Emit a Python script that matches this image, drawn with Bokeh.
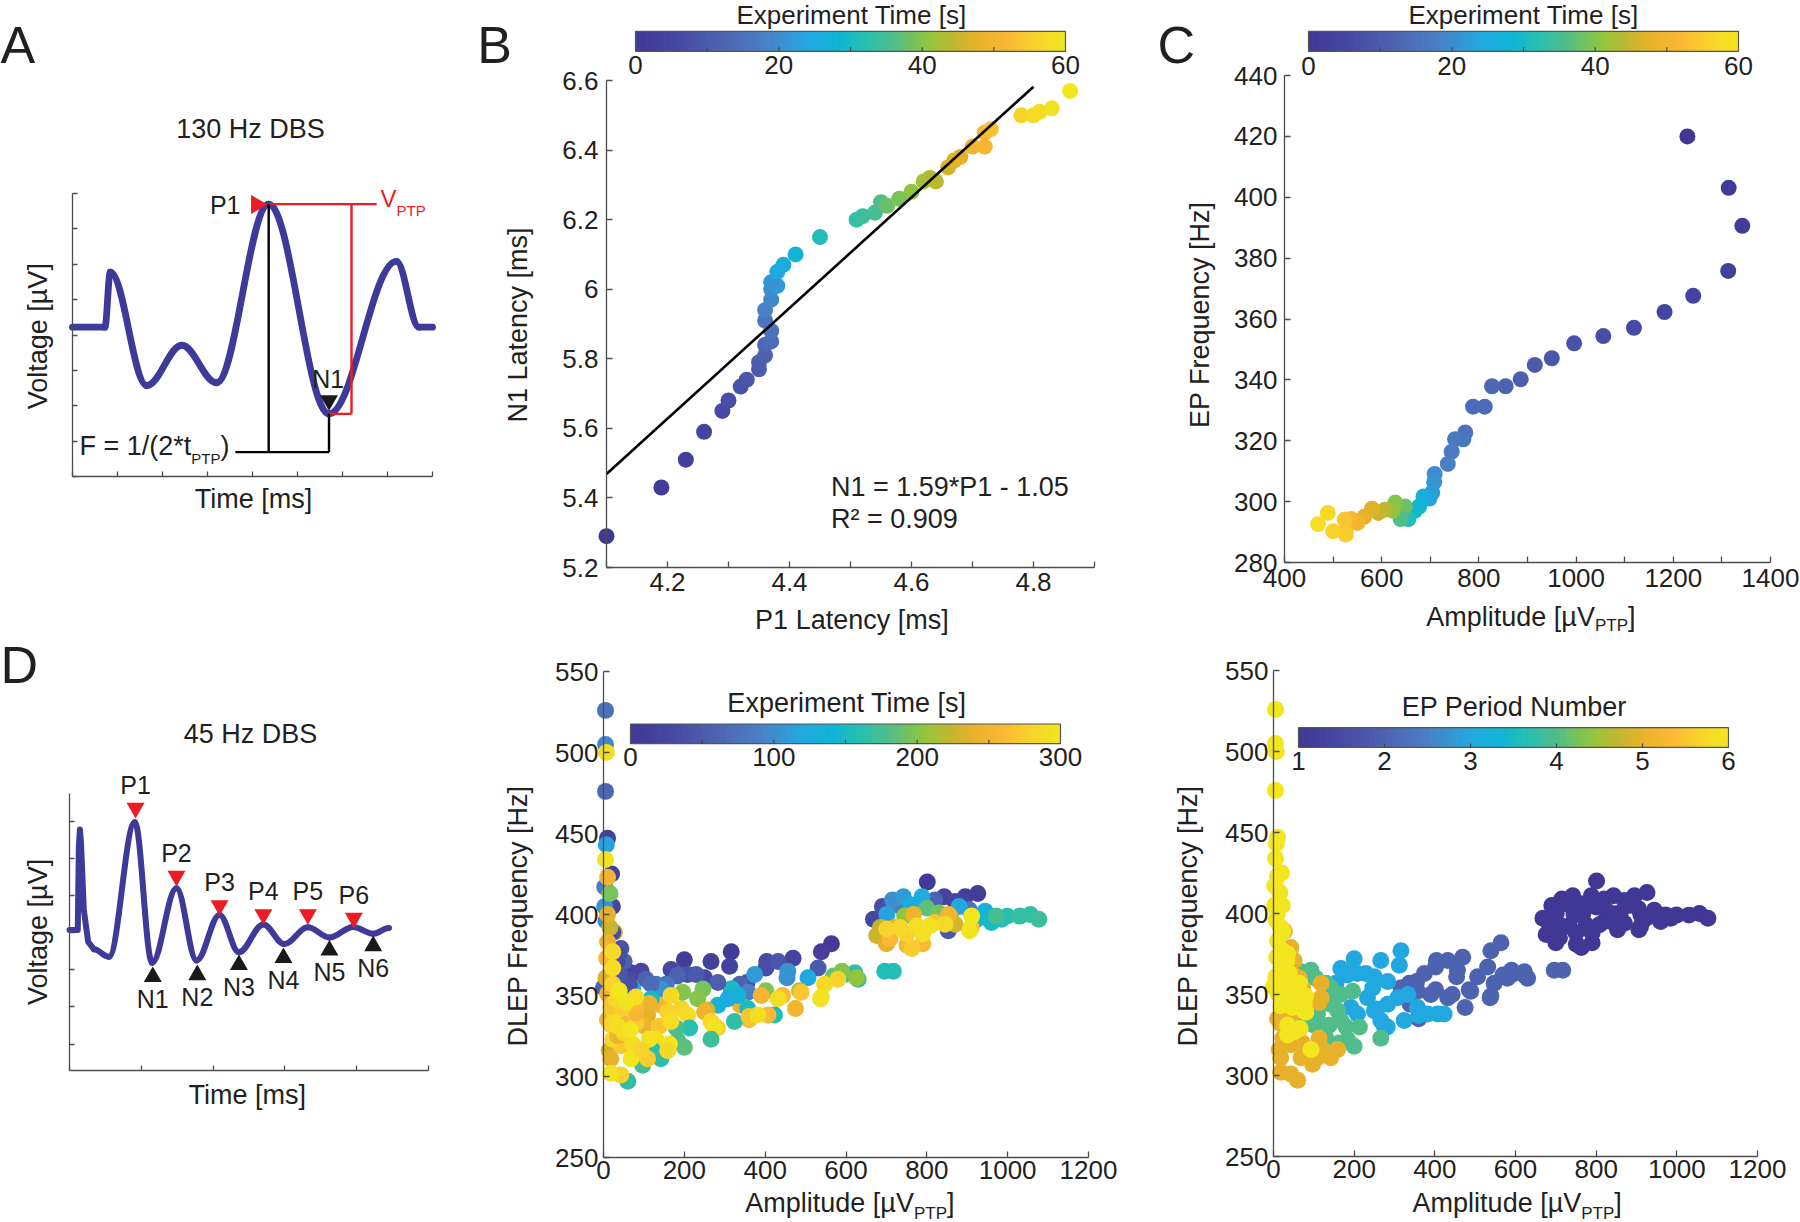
import numpy as np
from bokeh.plotting import figure
from bokeh.models import Range1d, FixedTicker, LinearColorMapper, ColumnDataSource, Label
from bokeh.layouts import row, column
from bokeh.embed import file_html
from bokeh.resources import INLINE

FONT = "Liberation Sans"
INK = "#231f20"
AXIS_GRAY = "#4d4d4d"
WAVE_BLUE = "#3e3a99"
RED = "#ec1c24"
BASE_SHIFT = 0.37  # em: Bokeh places the label anchor ~0.37em above the glyph baseline
ROW_SPLIT = 636

# ---------------- colormap (parula-like) ----------------
CMAP_POS = [0.0, 0.1, 0.2, 0.3, 0.4, 0.47, 0.53, 0.6, 0.68, 0.75, 0.8, 0.87, 0.93, 1.0]
CMAP_HEX = ["#403894", "#4749a4", "#4e63b0", "#4a80c6", "#22a8e0", "#10b4d6", "#24bfb2",
            "#50bd8a", "#8ec63f", "#c8b52e", "#e7b22a", "#fbb834", "#f8d22c", "#f2e61e"]

# ---------------- panel A: 130 Hz schematic ----------------
A_X_TICKS = [0, 1, 2, 3, 4, 5, 6, 7, 8]
A_Y_TICKS = [0, 1, 2, 3, 4, 5, 6, 7, 8]
A_KNOT_X = [0.0, 0.72, 0.84, 1.65, 2.43, 3.20, 4.36, 5.70, 7.20, 7.70, 8.0]
A_KNOT_Y = [4.22, 4.22, 5.78, 2.57, 3.71, 2.65, 7.70, 1.77, 6.08, 4.22, 4.22]
A_P1_INDEX, A_N1_INDEX = 6, 7
A_VPTP_BRACKET_X = 6.20
A_VPTP_END_X = 6.76
A_F_LINE_Y = 0.69
A_F_LINE_X0 = 3.62
A_P1_MARK = (4.09, 7.69)
A_N1_MARK = (5.70, 2.15)

# ---------------- panel B ----------------
B_P1 = [4.10, 4.19, 4.23, 4.26, 4.29, 4.30, 4.32, 4.33, 4.35, 4.35, 4.36, 4.36, 4.37, 4.37, 4.36,
        4.36, 4.37, 4.37, 4.38, 4.37, 4.38, 4.39, 4.41, 4.45, 4.51, 4.52, 4.54, 4.55, 4.56, 4.58,
        4.60, 4.62, 4.63, 4.64, 4.66, 4.67, 4.68, 4.70, 4.72, 4.72, 4.73, 4.78, 4.80, 4.81, 4.83, 4.86]
B_N1 = [5.29, 5.43, 5.51, 5.59, 5.65, 5.68, 5.72, 5.74, 5.77, 5.79, 5.81, 5.84, 5.85, 5.88, 5.91,
        5.94, 5.97, 6.00, 6.01, 6.02, 6.05, 6.07, 6.10, 6.15, 6.20, 6.21, 6.22, 6.25, 6.24, 6.26,
        6.28, 6.31, 6.32, 6.31, 6.35, 6.37, 6.38, 6.41, 6.41, 6.45, 6.46, 6.50, 6.50, 6.51, 6.52, 6.57]
B_TIME = [0, 2, 3, 4, 6, 7, 8, 9, 10, 11, 12, 13, 14, 15, 16,
          18, 19, 20, 22, 21, 24, 26, 28, 31, 33, 34, 35, 36, 38, 39,
          41, 42, 43, 44, 46, 47, 48, 50, 51, 52, 53, 56, 57, 58, 59, 60]
FIT_SLOPE, FIT_INTERCEPT, FIT_R2 = 1.59, -1.05, 0.909
FIT_X = [4.1, 4.8]
B_X_TICKS = [4.2, 4.4, 4.6, 4.8]
B_X_MINOR = [4.1, 4.3, 4.5, 4.7, 4.9]
B_X_LABELS = ["4.2", "4.4", "4.6", "4.8"]
B_Y_TICKS = [5.2, 5.4, 5.6, 5.8, 6.0, 6.2, 6.4, 6.6]
B_Y_LABELS = ["5.2", "5.4", "5.6", "5.8", "6", "6.2", "6.4", "6.6"]
CB_TIME60_TICKS = [0, 20, 40, 60]
CB_TIME60_MARKS = [10, 20, 30, 40, 50]

# ---------------- panel C ----------------
C_AMP = [1229, 1314, 1342, 1313, 1241, 1182, 1119, 1056, 996, 950, 915, 886, 855, 827, 812,
         788, 772, 768, 751, 744, 736, 709, 708, 704, 698, 686, 677, 668, 655, 648,
         639, 628, 623, 606, 593, 580, 564, 550, 537, 526, 524, 526, 500, 489, 469]
C_FREQ = [420.0, 403.1, 390.6, 375.8, 367.6, 362.3, 357.1, 354.4, 352.0, 347.1, 344.9, 340.2, 337.9, 337.9, 331.2,
          331.2, 322.7, 320.5, 320.5, 316.4, 312.4, 309.1, 306.4, 303.0, 301.0, 301.7, 298.4, 297.0, 294.3, 298.4,
          294.3, 299.7, 297.0, 297.3, 296.3, 297.7, 295.0, 293.0, 294.3, 290.3, 294.1, 289.2, 290.3, 296.3, 292.6]
C_TIME = [0, 1, 2, 3, 4, 5, 6, 7, 8, 9, 10, 11, 12, 13, 14,
          14.5, 15, 16, 16.5, 17, 18, 20, 21, 22, 23, 26, 28, 29, 31, 38,
          36, 40, 41, 44, 45, 47, 48, 50, 51, 53, 54, 55, 56, 57, 58]
C_X_TICKS = [400, 600, 800, 1000, 1200, 1400]
C_X_MINOR = [500, 700, 900, 1100, 1300]
C_Y_TICKS = [280, 300, 320, 340, 360, 380, 400, 420, 440]

# ---------------- panel D: 45 Hz schematic ----------------
D_X_TICKS = [0, 1, 2, 3, 4, 5]
D_Y_TICKS = [0, 1, 2, 3, 4, 5, 6]
D_SPIKE_X = [0.0, 0.115, 0.13, 0.145, 0.16, 0.20, 0.26, 0.34]
D_SPIKE_Y = [3.07, 3.07, 5.30, 5.77, 5.40, 3.60, 2.75, 2.55]
D_KNOT_X = [0.34, 0.55, 0.91, 1.15, 1.49, 1.77, 2.09, 2.36, 2.70, 2.99, 3.32, 3.62, 3.95, 4.23, 4.45]
D_KNOT_Y = [2.55, 2.35, 5.97, 2.19, 4.19, 2.25, 3.47, 2.47, 3.22, 2.69, 3.14, 2.87, 3.15, 2.97, 3.12]
D_PEAK_LABELS = ["P1", "P2", "P3", "P4", "P5", "P6"]
D_PEAK_MX = [0.92, 1.49, 2.09, 2.70, 3.32, 3.96]
D_PEAK_MY = [6.35, 4.52, 3.73, 3.49, 3.49, 3.39]
D_TROUGH_LABELS = ["N1", "N2", "N3", "N4", "N5", "N6"]
D_TROUGH_MX = [1.16, 1.78, 2.36, 2.98, 3.62, 4.23]
D_TROUGH_MY = [1.81, 1.86, 2.13, 2.32, 2.52, 2.64]

# ---------------- panels E/F: DLEP points, one list per EP period ----------------
P1_AMP = [801, 926, 895, 843, 870, 668, 690, 853, 918, 715, 742, 788, 760, 701, 880, 944, 972, 999,
          1056, 1077, 960, 800, 830, 745, 860, 676, 700, 767, 854, 751, 709, 820, 910, 701, 734, 775,
          808, 906, 911, 763, 790, 845, 735, 820, 905, 930, 985, 720, 790, 870, 1030, 685, 750]
P1_FREQ = [420, 413, 411, 411, 408, 397, 405, 390, 396, 409, 411, 411, 406, 400, 405, 402, 399, 399,
           400, 397, 395, 404, 401, 399, 398, 387, 382, 400, 400, 381, 385, 395, 392, 391, 392, 393,
           393, 390, 399, 379, 388, 394, 405, 409, 403, 398, 397, 392, 382, 394, 399, 392, 388]
P1_TIME = [5, 8, 12, 18, 25, 28, 35, 45, 55, 100, 110, 125, 130, 115, 120, 140, 175, 160,
           165, 170, 150, 185, 195, 205, 215, 225, 240, 245, 250, 255, 260, 265, 270, 280, 285, 290,
           295, 298, 300, 275, 292, 288, 90, 60, 80, 145, 155, 235, 262, 230, 168, 222, 278]
P2_AMP = [564, 539, 469, 432, 404, 374, 337, 316, 456, 506, 531, 547, 597, 622, 630, 696, 717, 489, 432,
          390, 539, 357, 580, 355, 443, 475, 402, 590, 454, 402, 318, 360, 339, 626, 569, 485, 537]
P2_FREQ = [382, 377, 373, 371, 371, 363, 357, 354, 365, 361, 367, 357, 363, 364, 360, 365, 365, 352, 348,
           350, 349, 352, 360, 358, 350, 342, 353, 365, 361, 367, 354, 335, 344, 361, 362, 353, 348]
P2_TIME = [8, 12, 20, 45, 30, 110, 60, 150, 105, 120, 50, 285, 160, 165, 170, 155, 158, 270, 290,
           255, 295, 90, 280, 40, 260, 250, 200, 200, 100, 35, 140, 265, 245, 205, 190, 215, 290]
P3_AMP = [200, 167, 155, 184, 208, 229, 250, 266, 316, 312, 283, 246, 233, 192, 208,
          250, 266, 283, 308, 333, 357, 382, 407, 275, 324, 423, 282, 256, 183, 360]
P3_FREQ = [372, 366, 357, 363, 363, 363, 361, 371, 377, 368, 358, 354, 348, 342, 338,
           340, 334, 344, 348, 350, 342, 338, 338, 330, 334, 338, 330, 341, 362, 337]
P3_TIME = [10, 25, 80, 45, 40, 50, 30, 15, 5, 18, 55, 195, 200, 280, 290,
           245, 285, 140, 120, 135, 150, 290, 260, 295, 165, 155, 275, 230, 60, 270]
P4_AMP = [68, 93, 105, 130, 142, 167, 196, 142, 159, 167, 138, 109, 180, 213, 184, 200, 163, 266, 130, 101, 80]
P4_FREQ = [364, 365, 360, 357, 354, 350, 352, 344, 340, 334, 331, 338, 330, 330, 322, 318, 320, 323, 323, 331, 333]
P4_TIME = [20, 25, 60, 85, 105, 285, 200, 250, 280, 290, 270, 240, 175, 160, 180, 185, 300, 170, 295, 245, 275]
P5_AMP = [27, 43, 51, 47, 64, 72, 118, 118, 113, 80, 27, 10, 18, 43, 23,
          14, 43, 72, 85, 113, 122, 159, 68, 18, 18, 60, 43, 97, 109, 142]
P5_FREQ = [389, 379, 371, 363, 360, 354, 357, 348, 345, 342, 340, 335, 332, 334, 323,
           316, 319, 320, 315, 323, 316, 316, 311, 311, 302, 297, 301, 307, 311, 311]
P5_TIME = [235, 40, 55, 20, 30, 130, 70, 150, 245, 260, 290, 250, 280, 255, 285,
           230, 270, 290, 260, 295, 160, 285, 300, 240, 295, 165, 280, 175, 275, 165]
P6_AMP = [5, 5, 7, 5, 10, 7, 5, 20, 10, 3, 16, 22, 3, 10, 6, 16, 23, 10, 23, 35, 8,
          23, 39, 6, 23, 39, 64, 10, 31, 80, 76, 56, 18, 47, 80, 35, 51, 66, 35, 93, 0, 33]
P6_FREQ = [526, 505, 500, 476, 447, 443, 434, 425, 423, 417, 413, 405, 405, 400, 396, 392, 389, 383, 377, 375, 373,
           367, 363, 361, 357, 353, 357, 351, 348, 349, 344, 346, 343, 342, 339, 331, 327, 329, 325, 316, 355, 371]
P6_TIME = [75, 95, 290, 65, 15, 115, 295, 12, 250, 85, 195, 22, 105, 240, 100, 225, 30, 245, 285, 35, 255,
           290, 45, 235, 280, 300, 38, 250, 285, 290, 260, 295, 270, 275, 255, 290, 285, 300, 245, 280, 60, 25]
EF_X_TICKS = [0, 200, 400, 600, 800, 1000, 1200]
EF_Y_TICKS = [250, 300, 350, 400, 450, 500, 550]
CB_TIME300_TICKS = [0, 100, 200, 300]
CB_TIME300_MARKS = [50, 100, 150, 200, 250]
CB_PERIOD_TICKS = [1, 2, 3, 4, 5, 6]
CB_PERIOD_MARKS = [2, 3, 4, 5]

# ---------------- helpers ----------------
K_SMOOTH = 0.364


def build_palette(n=256):
    rgb = np.array([[int(h[i:i + 2], 16) for i in (1, 3, 5)] for h in CMAP_HEX], float)
    t = np.linspace(0, 1, n)
    out = []
    for ti in t:
        c = [int(round(np.interp(ti, CMAP_POS, rgb[:, j]))) for j in range(3)]
        out.append("#%02x%02x%02x" % tuple(c))
    return out


PALETTE = build_palette()

ARIAL = {"A": .667, "m": .833, "p": .556, "l": .222, "i": .222, "t": .278, "u": .556, "d": .556,
         "e": .556, " ": .278, "[": .278, "]": .278, "\u00b5": .576, "V": .667, "P": .667, "T": .611,
         "F": .611, "=": .584, "1": .556, "/": .278, "(": .333, ")": .333, "2": .556, "*": .389}


def text_width(s, size):
    return sum(ARIAL.get(ch, 0.556) for ch in s) * size


def make_fig(box, frame, xr, yr):
    """box = figure canvas (page px); frame = axes box (page px). The plotting frame covers
    the whole canvas; the axes are pinned at the data minimum with fixed_location."""
    x0, y0, w, h = box
    L, R, T, B = frame
    sx = (xr[1] - xr[0]) / (R - L)
    sy = (yr[1] - yr[0]) / (B - T)
    p = figure(width=w, height=h, output_backend="svg", toolbar_location=None, tools="", title=None,
               x_range=Range1d(xr[0] - (L - x0) * sx, xr[1] + (x0 + w - R) * sx),
               y_range=Range1d(yr[0] - (y0 + h - B) * sy, yr[1] + (T - y0) * sy),
               min_border=0, min_border_left=0, min_border_right=0,
               min_border_top=0, min_border_bottom=0)
    p.extra_x_ranges = {"px": Range1d(x0, x0 + w)}
    p.extra_y_ranges = {"py": Range1d(y0 + h, y0)}
    p.outline_line_color = None
    p.grid.visible = False
    p.background_fill_color = "white"
    p.border_fill_color = "white"
    xa, ya = p.xaxis[0], p.yaxis[0]
    xa.fixed_location = yr[0]
    ya.fixed_location = xr[0]
    xa.bounds = (xr[0], xr[1])
    ya.bounds = (yr[0], yr[1])
    for ax in (xa, ya):
        ax.axis_line_color = AXIS_GRAY
        ax.axis_line_width = 1.3
        ax.major_tick_line_color = AXIS_GRAY
        ax.minor_tick_line_color = AXIS_GRAY
        ax.major_tick_line_width = 1.3
        ax.minor_tick_line_width = 1.3
        ax.major_tick_in = 6
        ax.major_tick_out = 0
        ax.minor_tick_in = 6
        ax.minor_tick_out = 0
        ax.major_label_text_font = FONT
        ax.major_label_text_font_size = "26px"
        ax.major_label_text_color = INK
    return p


def txt(p, s, x, y, size=27, align="left", angle=0.0, color=INK):
    """(x, y) = page position of the text baseline."""
    if angle == 0.0:
        y = y - BASE_SHIFT * size
    else:
        x = x - BASE_SHIFT * size
    p.add_layout(Label(x=x, y=y, text=s, text_font=FONT, text_font_size=f"{size}px",
                       text_color=color, text_align=align, text_baseline="alphabetic", angle=angle,
                       x_range_name="px", y_range_name="py"))


def sub_text(p, main, sub, tail, x, base, size=27, subsize=17, drop=8, center=True, color=INK):
    w1, w2, w3 = text_width(main, size), text_width(sub, subsize), text_width(tail, size)
    xl = x - (w1 + w2 + w3) / 2 if center else x
    txt(p, main, xl, base, size, color=color)
    txt(p, sub, xl + w1, base + drop, subsize, color=color)
    if tail:
        txt(p, tail, xl + w1 + w2, base, size, color=color)


def rot_label(p, s, x_base, y_center, size=27):
    txt(p, s, x_base, y_center, size, align="center", angle=np.pi / 2)


def smooth_wave(p, xs, ys, width=6.5):
    xs, ys = np.asarray(xs, float), np.asarray(ys, float)
    xa, xb, ya, yb = xs[:-1], xs[1:], ys[:-1], ys[1:]
    p.bezier(x0=xa, y0=ya, x1=xb, y1=yb,
             cx0=xa + K_SMOOTH * (xb - xa), cy0=ya, cx1=xb - K_SMOOTH * (xb - xa), cy1=yb,
             line_color=WAVE_BLUE, line_width=width, line_cap="round")


def colorbar(p, mapper, low, high, xl, xr, yt, yb, ticks, marks, title, title_x, title_base, label_base,
             title_size=27):
    n = 120
    edges = np.linspace(xl, xr, n + 1)
    vals = low + (np.arange(n) + 0.5) / n * (high - low)
    right = np.minimum(edges[1:] + 0.7, xr)
    src = ColumnDataSource(dict(l=edges[:-1], r=right, v=vals))
    p.quad(left="l", right="r", top=yt, bottom=yb, source=src,
           fill_color={"field": "v", "transform": mapper}, line_color=None,
           x_range_name="px", y_range_name="py")
    p.quad(left=[xl], right=[xr], top=[yt], bottom=[yb], fill_color=None,
           line_color="#555555", line_width=1.2, x_range_name="px", y_range_name="py")
    mx = [xl + (m - low) / (high - low) * (xr - xl) for m in marks]
    p.segment(x0=mx, y0=[yb] * len(mx), x1=mx, y1=[yb - 4] * len(mx), line_color="#444444",
              line_width=1.2, x_range_name="px", y_range_name="py")
    for t in ticks:
        tx = xl + (t - low) / (high - low) * (xr - xl)
        txt(p, str(t), tx, label_base, 26, align="center")
    txt(p, title, title_x, title_base, title_size, align="center")


def ticks(ax, major, minor=None, labels=None, standoff=6):
    ax.ticker = FixedTicker(ticks=major, minor_ticks=minor or [])
    if labels is not None:
        ax.major_label_overrides = {v: s for v, s in zip(major, labels)}
    ax.major_label_standoff = standoff


def bare_ticks(ax, positions):
    # schematic axes: tick marks only, no tick labels
    ax.ticker = FixedTicker(ticks=[], minor_ticks=positions)
    ax.minor_tick_in = 5


H1 = ROW_SPLIT
H2 = 1222 - ROW_SPLIT

# ======================= Panel A =======================
pA = make_fig((0, 0, 470, H1), (72, 432, 193, 476), (0, 8), (0, 8))
bare_ticks(pA.xaxis[0], A_X_TICKS)
bare_ticks(pA.yaxis[0], A_Y_TICKS)
smooth_wave(pA, A_KNOT_X, A_KNOT_Y, width=6.8)
p1x, p1y = A_KNOT_X[A_P1_INDEX], A_KNOT_Y[A_P1_INDEX]
n1x, n1y = A_KNOT_X[A_N1_INDEX], A_KNOT_Y[A_N1_INDEX]
pA.line([p1x, A_VPTP_END_X], [p1y, p1y], line_color=RED, line_width=2.4)
pA.line([A_VPTP_BRACKET_X, A_VPTP_BRACKET_X], [p1y, n1y], line_color=RED, line_width=2.4)
pA.line([n1x, A_VPTP_BRACKET_X], [n1y, n1y], line_color=RED, line_width=2.4)
pA.line([p1x, p1x], [p1y, A_F_LINE_Y], line_color="black", line_width=2.4)
pA.line([A_F_LINE_X0, n1x], [A_F_LINE_Y, A_F_LINE_Y], line_color="black", line_width=2.4)
pA.line([n1x, n1x], [n1y, A_F_LINE_Y], line_color="black", line_width=2.4)
pA.scatter([A_P1_MARK[0]], [A_P1_MARK[1]], marker="triangle", size=19, angle=-np.pi / 2,
           fill_color=RED, line_color=None)
pA.scatter([A_N1_MARK[0]], [A_N1_MARK[1]], marker="inverted_triangle", size=18,
           fill_color="#1a1a1a", line_color=None)
txt(pA, "A", 0, 64, 52)
txt(pA, "130 Hz DBS", 250, 138.6, 27, align="center")
txt(pA, "Time [ms]", 253, 508, 27, align="center")
rot_label(pA, "Voltage [\u00b5V]", 47.6, 335.7)
txt(pA, "P1", 240, 213.6, 25, align="right")
txt(pA, "N1", 327.7, 387.5, 25, align="center")
sub_text(pA, "V", "PTP", "", 380, 206.4, size=24, subsize=15, drop=9.6, center=False, color=RED)
sub_text(pA, "F = 1/(2*t", "PTP", ")", 79, 455.4, size=27, subsize=15, drop=7.8, center=False)

# ======================= Panel B =======================
pB = make_fig((470, 0, 670, H1), (606, 1094, 80, 567), (4.1, 4.9), (5.2, 6.6))
ticks(pB.xaxis[0], B_X_TICKS, B_X_MINOR, B_X_LABELS, standoff=5)
ticks(pB.yaxis[0], B_Y_TICKS, None, B_Y_LABELS, standoff=8)
map60B = LinearColorMapper(palette=PALETTE, low=0, high=60)
srcB = ColumnDataSource(dict(x=B_P1, y=B_N1, t=B_TIME))
pB.scatter("x", "y", source=srcB, size=16, fill_color={"field": "t", "transform": map60B}, line_color=None)
pB.line(FIT_X, [FIT_SLOPE * v + FIT_INTERCEPT for v in FIT_X], line_color="black", line_width=2.6)
txt(pB, f"N1 = {FIT_SLOPE}*P1 - {abs(FIT_INTERCEPT)}", 830.4, 496, 27)
txt(pB, f"R\u00b2 = {FIT_R2}", 830.4, 528.6, 27)
txt(pB, "B", 476.8, 63.3, 52)
txt(pB, "P1 Latency [ms]", 851.4, 629, 27, align="center")
rot_label(pB, "N1 Latency [ms]", 527.7, 324.5)
colorbar(pB, map60B, 0, 60, 635, 1065, 30.8, 50.8, CB_TIME60_TICKS, CB_TIME60_MARKS,
         "Experiment Time [s]", 851, 24.5, 74, title_size=26)

# ======================= Panel C =======================
pC = make_fig((1140, 0, 660, H1), (1284, 1770, 75, 562), (400, 1400), (280, 440))
ticks(pC.xaxis[0], C_X_TICKS, C_X_MINOR, None, standoff=6)
ticks(pC.yaxis[0], C_Y_TICKS, None, None, standoff=7)
map60C = LinearColorMapper(palette=PALETTE, low=0, high=60)
srcC = ColumnDataSource(dict(x=C_AMP, y=C_FREQ, t=C_TIME))
pC.scatter("x", "y", source=srcC, size=16, fill_color={"field": "t", "transform": map60C}, line_color=None)
txt(pC, "C", 1157, 63.3, 52)
sub_text(pC, "Amplitude [\u00b5V", "PTP", "]", 1530.4, 626, 27, 17, 5.5)
rot_label(pC, "EP Frequency [Hz]", 1209.8, 314.3)
colorbar(pC, map60C, 0, 60, 1308, 1738, 30.8, 50.8, CB_TIME60_TICKS, CB_TIME60_MARKS,
         "Experiment Time [s]", 1523, 24.5, 75, title_size=26)

# ======================= Panel D =======================
pD = make_fig((0, ROW_SPLIT, 470, H2), (69, 428, 793, 1070), (0, 5), (-0.71, 6.74))
bare_ticks(pD.xaxis[0], D_X_TICKS)
bare_ticks(pD.yaxis[0], D_Y_TICKS)
pD.line(D_SPIKE_X, D_SPIKE_Y, line_color=WAVE_BLUE, line_width=6, line_join="round", line_cap="round")
smooth_wave(pD, D_KNOT_X, D_KNOT_Y, width=6)
pD.scatter(D_PEAK_MX, D_PEAK_MY, marker="inverted_triangle", size=18, fill_color=RED, line_color=None)
pD.scatter(D_TROUGH_MX, D_TROUGH_MY, marker="triangle", size=18, fill_color="#1a1a1a", line_color=None)
D_UNIT_PX = (1070 - 793) / (6.74 + 0.71)
d_shift = BASE_SHIFT * 25 / D_UNIT_PX
for s, x, y in zip(D_PEAK_LABELS, D_PEAK_MX, D_PEAK_MY):
    pD.add_layout(Label(x=x, y=y + 0.38 + d_shift, text=s, text_font=FONT, text_font_size="25px",
                        text_color=INK, text_align="center", text_baseline="alphabetic"))
for s, x, y in zip(D_TROUGH_LABELS, D_TROUGH_MX, D_TROUGH_MY):
    pD.add_layout(Label(x=x, y=y - 0.84 + d_shift, text=s, text_font=FONT, text_font_size="25px",
                        text_color=INK, text_align="center", text_baseline="alphabetic"))
txt(pD, "D", 0, 684, 52)
txt(pD, "45 Hz DBS", 250, 743.2, 27, align="center")
txt(pD, "Time [ms]", 246.7, 1104.7, 27, align="center")
rot_label(pD, "Voltage [\u00b5V]", 47.6, 931.4)

# ======================= Panels E & F =======================
amp_all = np.array(P1_AMP + P2_AMP + P3_AMP + P4_AMP + P5_AMP + P6_AMP, float)
freq_all = np.array(P1_FREQ + P2_FREQ + P3_FREQ + P4_FREQ + P5_FREQ + P6_FREQ, float)
time_all = np.array(P1_TIME + P2_TIME + P3_TIME + P4_TIME + P5_TIME + P6_TIME, float)
per_all = np.array([1] * len(P1_AMP) + [2] * len(P2_AMP) + [3] * len(P3_AMP) +
                   [4] * len(P4_AMP) + [5] * len(P5_AMP) + [6] * len(P6_AMP), float)
order = np.lexsort((time_all, per_all))
srcEF = ColumnDataSource(dict(x=amp_all[order], y=freq_all[order], t=time_all[order], k=per_all[order]))

pE = make_fig((470, ROW_SPLIT, 670, H2), (603, 1088, 671, 1157), (0, 1200), (250, 550))
ticks(pE.xaxis[0], EF_X_TICKS, None, None, standoff=3)
ticks(pE.yaxis[0], EF_Y_TICKS, None, None, standoff=5)
map300 = LinearColorMapper(palette=PALETTE, low=0, high=300)
pE.scatter("x", "y", source=srcEF, size=17, fill_color={"field": "t", "transform": map300}, line_color=None)
colorbar(pE, map300, 0, 300, 630, 1060, 723.5, 743.2, CB_TIME300_TICKS, CB_TIME300_MARKS,
         "Experiment Time [s]", 846.4, 712.4, 766.2)
sub_text(pE, "Amplitude [\u00b5V", "PTP", "]", 849.4, 1212, 27, 17, 7.5)
rot_label(pE, "DLEP Frequency [Hz]", 527.7, 915.5)

pF = make_fig((1140, ROW_SPLIT, 660, H2), (1273, 1757, 670, 1156), (0, 1200), (250, 550))
ticks(pF.xaxis[0], EF_X_TICKS, None, None, standoff=3)
ticks(pF.yaxis[0], EF_Y_TICKS, None, None, standoff=5)
mapP = LinearColorMapper(palette=PALETTE, low=1, high=6)
pF.scatter("x", "y", source=srcEF, size=17, fill_color={"field": "k", "transform": mapP}, line_color=None)
colorbar(pF, mapP, 1, 6, 1298, 1728, 727.2, 746.9, CB_PERIOD_TICKS, CB_PERIOD_MARKS,
         "EP Period Number", 1513.8, 716.1, 769.9)
sub_text(pF, "Amplitude [\u00b5V", "PTP", "]", 1516.7, 1212, 27, 17, 7.5)
rot_label(pF, "DLEP Frequency [Hz]", 1197.2, 915.5)

layout = column(row(pA, pB, pC), row(pD, pE, pF))
open("out.html", "w").write(file_html(layout, INLINE, title="DBS evoked potentials"))
